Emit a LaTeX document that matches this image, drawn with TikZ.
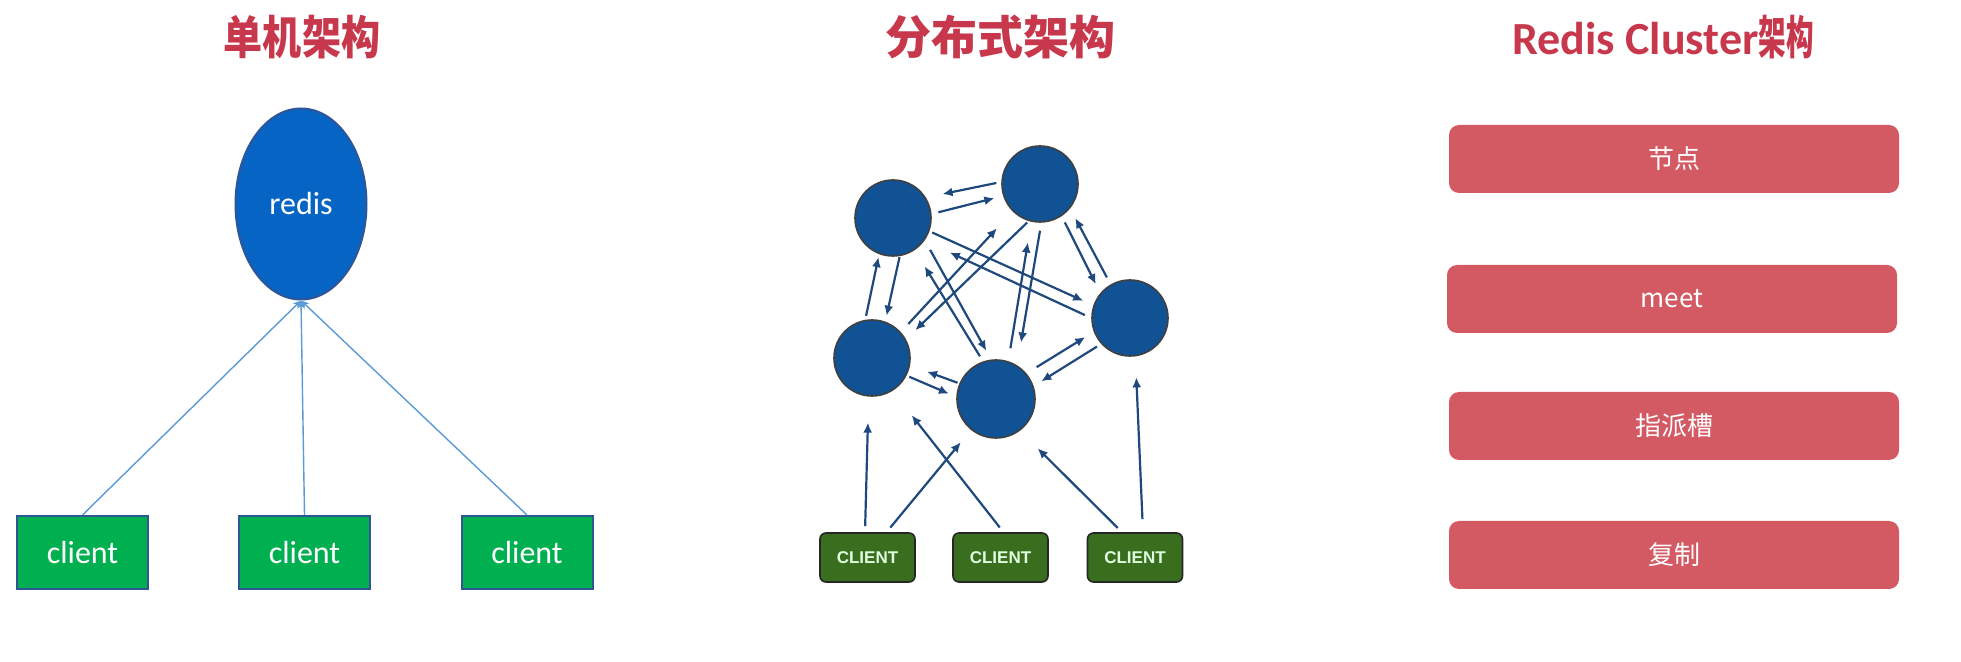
\documentclass[tikz,border=0pt]{standalone}
\usepackage{fontspec}
\usepackage{graphicx}
\setmainfont{Carlito}
\newfontfamily\cjk{Noto Sans CJK SC}
\newfontfamily\capsfont{Liberation Sans}
\usetikzlibrary{shapes.geometric,arrows.meta}
\definecolor{titlered}{RGB}{200,56,76}
\definecolor{redisblue}{RGB}{6,101,196}
\definecolor{edgeblue}{RGB}{47,85,151}
\definecolor{clientgreen}{RGB}{0,176,80}
\definecolor{wireblue}{RGB}{91,155,213}
\definecolor{nodeblue}{RGB}{17,82,148}
\definecolor{arrowblue}{RGB}{31,73,125}
\definecolor{darkgreen}{RGB}{56,110,30}
\definecolor{stepred}{RGB}{211,89,99}
\begin{document}
\begin{tikzpicture}[x=0.5pt, y=0.5pt,
    title/.style={text=titlered, font=\cjk\bfseries\fontsize{23}{27}\selectfont},
    client/.style={rectangle, draw=edgeblue, line width=1pt, fill=clientgreen, text=white,
      minimum width=65.5pt, minimum height=36.5pt, font=\fontsize{16}{18}\selectfont},
    member/.style={circle, draw=black!75, line width=0.8pt, fill=nodeblue,
      minimum size=38pt, inner sep=0pt},
    bigclient/.style={rectangle, rounded corners=3pt, draw=black!85, line width=0.8pt,
      fill=darkgreen, text=white!88!green, minimum width=47.5pt, minimum height=24.5pt,
      font=\capsfont\bfseries\fontsize{8.5}{10}\selectfont},
    stepbox/.style={rectangle, rounded corners=5pt, fill=stepred, text=white,
      minimum width=225pt, minimum height=34pt, font=\cjk\fontsize{13}{15}\selectfont},
    wire/.style={wireblue, line width=0.7pt, -{Stealth[length=4pt, width=3.5pt]}},
    link/.style={arrowblue, line width=1.1pt, -{Latex[length=5pt, width=4.5pt]}},
    gap/.style 2 args={shorten <=#1pt, shorten >=#2pt}]
  \fill[white] (0,0) rectangle (1961,-662);
  \useasboundingbox (0,0) rectangle (1961,-662);

  % single
  \node[title] (single) at (302,-37) {\scalebox{0.85}[1]{单机架构}};
  \node[ellipse, draw=edgeblue, line width=1pt, fill=redisblue, text=white,
    minimum width=65.5pt, minimum height=95.5pt, inner sep=0pt,
    font=\fontsize{16}{18}\selectfont] (redis) at (301,-204) {redis};
  \node[client] (cl1) at (82.5,-552.5) {client};
  \node[client] (cl2) at (304.5,-552.5) {client};
  \node[client] (cl3) at (527,-552.5) {client};
  \draw[wire] (cl1.north) -- (redis.south);
  \draw[wire] (cl2.north) -- (redis.south);
  \draw[wire] (cl3.north) -- (redis.south);

  % distributed
  \node[title] (dist) at (1000,-37) {分布式架构};
  \node[member] (m1) at (893,-218) {};
  \node[member] (m2) at (1040,-184) {};
  \node[member] (m3) at (1130,-318) {};
  \node[member] (m4) at (872,-358) {};
  \node[member, minimum size=39pt] (m5) at (996,-399) {};
  \node[bigclient] (k1) at (867.5,-557.5) {CLIENT};
  \node[bigclient] (k2) at (1000.5,-557.5) {CLIENT};
  \node[bigclient] (k3) at (1135,-557.5) {CLIENT};
  \draw[link, gap={2.5}{8.5}] (m2.177) -- (m1.32);
  \draw[link, gap={3.5}{4.5}] (m1.6) -- (m2.198);
  \draw[link, gap={2}{1.5}] (m4.100) -- (m1.249);
  \draw[link, gap={0.5}{3}] (m1.280) -- (m4.70);
  \draw[link, gap={1.5}{5.5}] (m1.340) -- (m3.161);
  \draw[link, gap={3.5}{14}] (m3.180) -- (m1.324);
  \draw[link, gap={5.5}{5}] (m1.325) -- (m5.97);
  \draw[link, gap={3}{9.5}] (m5.109) -- (m1.304);
  \draw[link, gap={1}{6.5}] (m2.253) -- (m4.29);
  \draw[link, gap={5.5}{11.5}] (m4.42) -- (m2.225);
  \draw[link, gap={6.5}{10.5}] (m5.72) -- (m2.257);
  \draw[link, gap={4}{11.5}] (m2.272) -- (m5.58);
  \draw[link, gap={3.5}{5}] (m2.304) -- (m3.140);
  \draw[link, gap={4}{5.5}] (m3.120) -- (m2.321);
  \draw[link, gap={1.5}{4}] (m4.333) -- (m5.177);
  \draw[link, gap={1}{9}] (m5.157) -- (m4.349);
  \draw[link, gap={6}{5}] (m5.40) -- (m3.201);
  \draw[link, gap={2.5}{4.5}] (m3.222) -- (m5.19);
  \draw[link, gap={3}{13}] ([xshift=-1.25pt]k1.north) -- (m4.265);
  \draw[link, gap={3}{8}] ([xshift=9.5pt]k1.north) -- (m5.231);
  \draw[link, gap={3}{15.5}] ([xshift=1.5pt]k2.north) -- (m4.302);
  \draw[link, gap={3}{12.5}] ([xshift=-6.5pt]k3.north) -- (m5.307);
  \draw[link, gap={6.5}{10.5}] ([xshift=4pt]k3.north) -- (m3.278);

  % cluster
  \node[title] (cluster) at (1663,-37) {{\rmfamily Redis Cluster}\scalebox{0.6}[1]{架构}};
  \node[stepbox] (s1) at (1674,-159) {节点};
  \node[stepbox] (s2) at (1672,-299) {meet};
  \node[stepbox] (s3) at (1674,-426) {指派槽};
  \node[stepbox] (s4) at (1674,-555) {复制};
\end{tikzpicture}
\end{document}
